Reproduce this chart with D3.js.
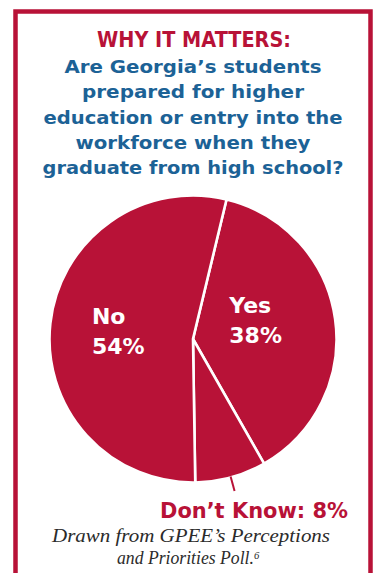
<!DOCTYPE html>
<html>
<head>
<meta charset="utf-8">
<script src="https://cdn.jsdelivr.net/npm/d3@7"></script>
<style>
  html, body { margin: 0; padding: 0; background: #fff; }
  svg { display: block; }
</style>
</head>
<body>
<script>
// Poll results
const categories = ["Yes", "Don’t Know", "No"];
const values = [38, 8, 54];
const kicker = "WHY IT MATTERS:";
const questionLines = [
  "Are Georgia’s students",
  "prepared for higher",
  "education or entry into the",
  "workforce when they",
  "graduate from high school?"
];
const sourceLines = ["Drawn from GPEE’s Perceptions", "and Priorities Poll.⁶"];

const W = 377, H = 573;
const RED = "#B81237";
const BLUE = "#1C6296";
const HEAD_FONT = "'DejaVu Sans', sans-serif";

const svg = d3.select("body").append("svg")
  .attr("width", W).attr("height", H);

// Frame
svg.append("rect")
  .attr("x", 15.5).attr("y", 11.5)
  .attr("width", 355).attr("height", H + 20)
  .attr("fill", "none").attr("stroke", RED).attr("stroke-width", 4.5);

// Heading
svg.append("text")
  .attr("x", 194).attr("y", 47)
  .attr("text-anchor", "middle")
  .attr("font-family", HEAD_FONT).attr("font-weight", "bold")
  .attr("font-size", 21.5).attr("fill", RED)
  .attr("textLength", 194).attr("lengthAdjust", "spacingAndGlyphs")
  .text(kicker);

const qWidths = [257, 222, 299, 235, 301];
svg.append("g").selectAll("text").data(questionLines).join("text")
  .attr("x", 193).attr("y", (d, i) => 73 + i * 25.3)
  .attr("text-anchor", "middle")
  .attr("font-family", HEAD_FONT).attr("font-weight", "bold")
  .attr("font-size", 17.5).attr("fill", BLUE)
  .attr("textLength", (d, i) => qWidths[i]).attr("lengthAdjust", "spacingAndGlyphs")
  .text(d => d);

// Pie
const cx = 193, cy = 339, r = 143.5;
const start = 13.5 * Math.PI / 180;
const pie = d3.pie().sort(null).startAngle(start).endAngle(start + 2 * Math.PI);
const arcs = pie(values);
const arc = d3.arc().innerRadius(0).outerRadius(r);

const g = svg.append("g").attr("transform", `translate(${cx},${cy})`);
g.selectAll("path").data(arcs).join("path")
  .attr("d", arc)
  .attr("fill", RED)
  .attr("stroke", "#fff").attr("stroke-width", 2.6).attr("stroke-linejoin", "miter");

// In-slice labels for the two large slices
const labelNudge = { "Yes": [-10, -11], "No": [-4.5, -2] };
const labelR = 72;
arcs.forEach((a, i) => {
  const name = categories[i];
  if (!labelNudge[name]) return;
  const mid = (a.startAngle + a.endAngle) / 2;
  const x = Math.sin(mid) * labelR + labelNudge[name][0];
  const y = -Math.cos(mid) * labelR + labelNudge[name][1];
  const t = g.append("text")
    .attr("font-family", HEAD_FONT).attr("font-weight", "bold")
    .attr("font-size", 22).attr("fill", "#fff")
    .attr("text-anchor", "start");
  const x0 = x - 25;
  t.append("tspan").attr("x", x0).attr("y", y - 5).text(name);
  t.append("tspan").attr("x", x0).attr("y", y + 25).text(values[i] + "%");
});

// Callout for the small slice
arcs.forEach((a, i) => {
  const name = categories[i];
  if (labelNudge[name]) return;
  const mid = (a.startAngle + a.endAngle) / 2;
  const p = rr => [Math.sin(mid) * rr, -Math.cos(mid) * rr];
  const [x1, y1] = p(r - 1), [x2, y2] = p(r + 14);
  g.append("line")
    .attr("x1", x1).attr("y1", y1).attr("x2", x2).attr("y2", y2)
    .attr("stroke", RED).attr("stroke-width", 2);
  svg.append("text")
    .attr("x", 160).attr("y", 518)
    .attr("font-family", HEAD_FONT).attr("font-weight", "bold")
    .attr("font-size", 21.5).attr("fill", RED)
    .attr("textLength", 188).attr("lengthAdjust", "spacingAndGlyphs")
    .text(`${name}: ${values[i]}%`);
});

// Source lines
const src = svg.append("g")
  .attr("font-family", "'Liberation Serif', serif")
  .attr("font-style", "italic").attr("font-size", 18.5).attr("fill", "#2b2b2b");
src.selectAll("text").data(sourceLines).join("text")
  .attr("x", (d, i) => [52, 117][i])
  .attr("y", (d, i) => 542 + i * 22)
  .attr("textLength", (d, i) => [278, 143][i])
  .attr("lengthAdjust", "spacingAndGlyphs")
  .text(d => d);
</script>
</body>
</html>
